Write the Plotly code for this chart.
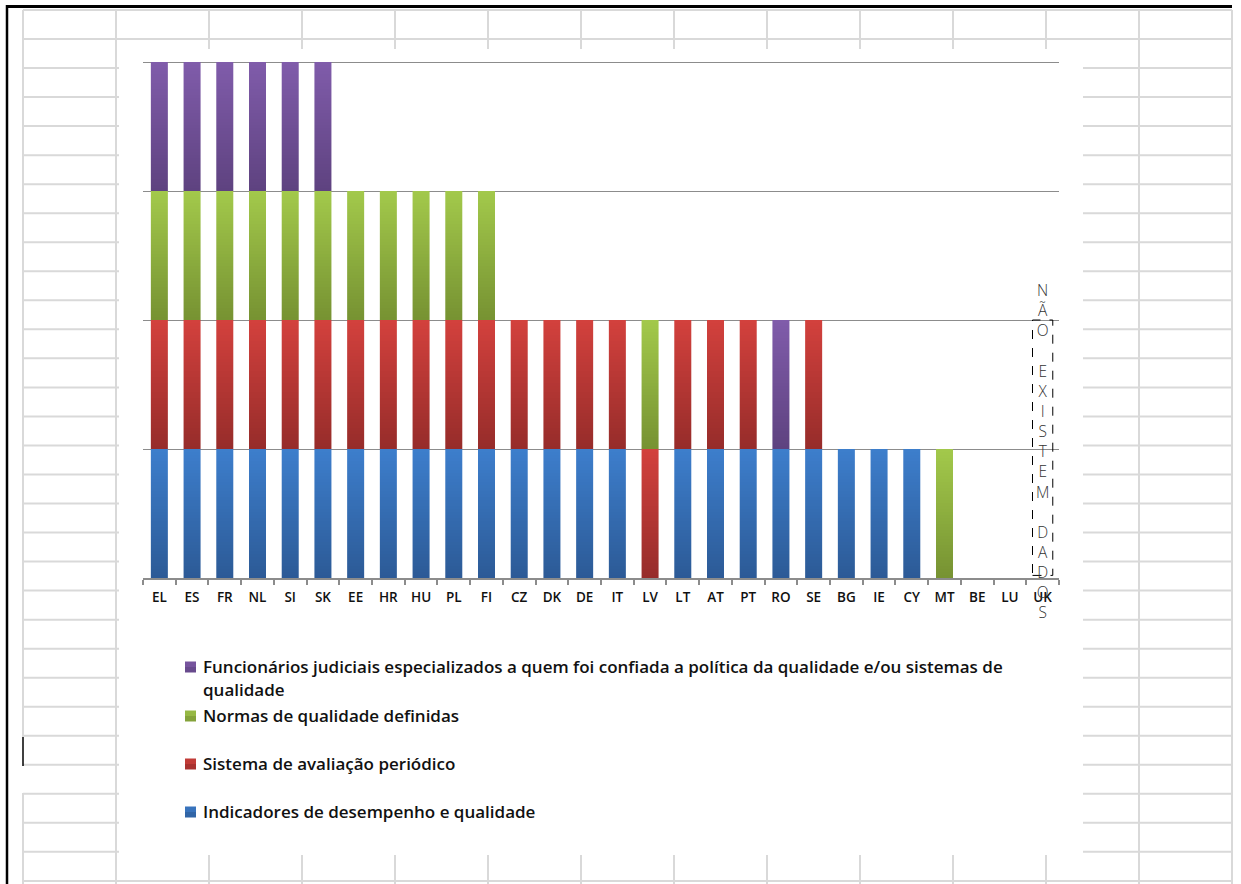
import plotly.graph_objects as go

# ---- data -------------------------------------------------------------
countries = ["EL", "ES", "FR", "NL", "SI", "SK", "EE", "HR", "HU", "PL", "FI",
             "CZ", "DK", "DE", "IT", "LV", "LT", "AT", "PT", "RO", "SE",
             "BG", "IE", "CY", "MT", "BE", "LU", "UK"]

indicadores = [1, 1, 1, 1, 1, 1, 1, 1, 1, 1, 1, 1, 1, 1, 1, 0, 1, 1, 1, 1, 1,
               1, 1, 1, 0, 0, 0, 0]
sistema = [1, 1, 1, 1, 1, 1, 1, 1, 1, 1, 1, 1, 1, 1, 1, 1, 1, 1, 1, 0, 1,
           0, 0, 0, 0, 0, 0, 0]
normas = [1, 1, 1, 1, 1, 1, 1, 1, 1, 1, 1, 0, 0, 0, 0, 1, 0, 0, 0, 0, 0,
          0, 0, 0, 1, 0, 0, 0]
funcionarios = [1, 1, 1, 1, 1, 1, 0, 0, 0, 0, 0, 0, 0, 0, 0, 0, 0, 0, 0, 1, 0,
                0, 0, 0, 0, 0, 0, 0]

labels = [
    "Indicadores de desempenho e qualidade",
    "Sistema de avaliação periódico",
    "Normas de qualidade definidas",
    "Funcionários judiciais especializados a quem foi confiada a política da qualidade e/ou sistemas de qualidade",
]
no_data_text = "NÃO EXISTEM DADOS"

# ---- styling ----------------------------------------------------------
W, H = 1241, 884
UNIT_PX = 129                      # pixels per unit on the value axis
ML, MR, MT = 143, 182, 56
PH = 522
MB = H - MT - PH
PW = W - ML - MR
Y_TOP = PH / UNIT_PX

# (bottom colour, top colour) of each series' vertical gradient
GRAD = [
    ((44, 90, 150), (61, 126, 204)),   # blue
    ((150, 44, 42), (211, 65, 61)),    # red
    ((118, 146, 50), (163, 201, 75)),  # green
    ((94, 66, 128), (128, 92, 170)),   # purple
]
SLICES = 43                        # 3 px bands per unit
BAR_W = 0.52
FONT = "Open Sans"
GRID_GREY = "#D9D9D9"
AXIS_GREY = "#8C8C8C"


def px(x):
    return (x - ML) / PW


def py(y):
    return (H - MB - y) / PH


def mix(c0, c1, t):
    return "rgb(%d,%d,%d)" % tuple(round(a + (b - a) * t) for a, b in zip(c0, c1))


fig = go.Figure()

# stacked bars; each unit segment is painted as thin bands shading from
# the darker bottom colour to the lighter top colour
series = [indicadores, sistema, normas, funcionarios]
cum = [0] * len(countries)
for vals, (c_bot, c_top) in zip(series, GRAD):
    for k in range(SLICES):
        fig.add_trace(go.Bar(
            x=countries,
            y=[v / SLICES for v in vals],
            base=[b + v * k / SLICES for b, v in zip(cum, vals)],
            width=BAR_W,
            marker=dict(color=mix(c_bot, c_top, (k + 0.5) / SLICES), line=dict(width=0)),
            showlegend=False,
            hoverinfo="skip",
        ))
    cum = [b + v for b, v in zip(cum, vals)]

shapes = []

# worksheet cell grid behind the chart object
col_x = [23 + 93 * i for i in range(14)]
row_y = [10 + 29.03 * j for j in range(31)]
for i, x in enumerate(col_x):
    if i == 0:
        segs = [(10, 737), (793, H)]
    else:
        segs = [(10, H)]
    for y0, y1 in segs:
        shapes.append(dict(type="line", xref="paper", yref="paper",
                           x0=px(x), x1=px(x), y0=py(y0), y1=py(y1),
                           line=dict(color=GRID_GREY, width=2), layer="below"))
for y in row_y:
    shapes.append(dict(type="line", xref="paper", yref="paper",
                       x0=px(23), x1=px(1232), y0=py(y), y1=py(y),
                       line=dict(color=GRID_GREY, width=2), layer="below"))

# chart object area
shapes.append(dict(type="rect", xref="paper", yref="paper",
                   x0=px(119), x1=px(1083), y0=py(49), y1=py(855),
                   fillcolor="white", line=dict(width=0), layer="below"))

# window frame and text cursor
shapes.append(dict(type="line", xref="paper", yref="paper",
                   x0=px(7), x1=px(7), y0=py(5), y1=py(H + 2),
                   line=dict(color="black", width=2.5), layer="above"))
shapes.append(dict(type="line", xref="paper", yref="paper",
                   x0=px(6), x1=px(1232), y0=py(6.5), y1=py(6.5),
                   line=dict(color="black", width=3), layer="above"))
shapes.append(dict(type="line", xref="paper", yref="paper",
                   x0=px(23), x1=px(23), y0=py(737), y1=py(766),
                   line=dict(color="black", width=1.5), layer="above"))

# dashed box marking the country without data
shapes.append(dict(type="rect", xref="x", yref="y",
                   x0=27 - 0.31, x1=27 + 0.31, y0=0.02, y1=2.0,
                   line=dict(color="black", width=1, dash="dash"),
                   fillcolor="rgba(0,0,0,0)", layer="above"))

annotations = [dict(
    text="<br>".join(ch if ch != " " else "" for ch in no_data_text),
    xref="x", yref="paper", x=27, y=py(451),
    xanchor="center", yanchor="middle", showarrow=False,
    font=dict(family=FONT, size=15.5, color="#333333", weight=300),
)]

# legend, listed from top to bottom
legend_rows = [
    (3, [667, 690]),
    (2, [716]),
    (1, [764]),
    (0, [812]),
]
for s, ys in legend_rows:
    c_bot, c_top = GRAD[s]
    y_mid = ys[0]
    for h in range(2):
        shapes.append(dict(type="rect", xref="paper", yref="paper",
                           x0=px(185), x1=px(196),
                           y0=py(y_mid + 5.5 - 5.5 * h), y1=py(y_mid - 5.5 * h),
                           fillcolor=mix(c_bot, c_top, 0.3 + 0.4 * h),
                           line=dict(width=0), layer="above"))
    text = labels[s]
    if len(ys) == 2:
        parts = [text[: text.rfind(" qualidade")], "qualidade"]
    else:
        parts = [text]
    for part, yy in zip(parts, ys):
        annotations.append(dict(
            text=part, xref="paper", yref="paper", x=px(201), y=py(yy - 1),
            xanchor="left", yanchor="middle", showarrow=False,
            font=dict(family=FONT, size=17, color="#111111", weight=600),
        ))

fig.update_layout(
    width=W, height=H,
    margin=dict(l=ML, r=MR, t=MT, b=MB, pad=0),
    paper_bgcolor="white",
    plot_bgcolor="rgba(0,0,0,0)",
    barmode="overlay",
    showlegend=False,
    shapes=shapes,
    annotations=annotations,
    xaxis=dict(
        type="category",
        categoryorder="array", categoryarray=countries,
        range=[-0.5, len(countries) - 0.5],
        showline=True, linecolor=AXIS_GREY, linewidth=1.5,
        ticks="outside", tickson="boundaries", ticklen=5,
        tickcolor=AXIS_GREY, tickwidth=1.5,
        showgrid=False, zeroline=False,
        tickfont=dict(family=FONT, size=13.5, color="#111111", weight=600),
        ticklabelstandoff=6,
    ),
    yaxis=dict(
        range=[0, Y_TOP], dtick=1, tick0=0,
        showgrid=True, gridcolor=AXIS_GREY, gridwidth=1.3,
        showticklabels=False, zeroline=False, showline=False, ticks="",
    ),
)

# keep the page free of scrollbars at the figure's exact size
fig.write_html(
    "out.html",
    post_script="document.documentElement.style.overflow='hidden';"
                "document.body.style.overflow='hidden';",
)
